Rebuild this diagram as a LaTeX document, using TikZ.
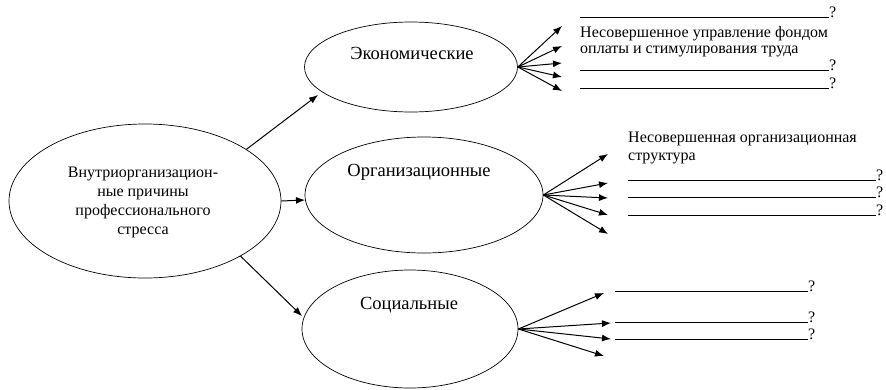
\documentclass[tikz,border=0pt]{standalone}
\usepackage{fontspec}
\setmainfont{Liberation Serif}
\usetikzlibrary{arrows.meta}
\usetikzlibrary{shapes.geometric}
\tikzset{
oval/.style={shape=ellipse, draw=black, line width=0.7pt, inner sep=0pt},
ray/.style={line width=1pt, -{Latex[length=9pt,width=7pt]}},
blank/.style={line width=0.6pt},
cause/.style={font=\fontsize{18.5}{22}\selectfont},
note/.style={font=\fontsize{16}{18}\selectfont, inner sep=0pt}}

\begin{document}
\begin{tikzpicture}[x=1pt, y=-1pt]
    \useasboundingbox (0,0) rectangle (886,389);

                % ellipses
                \node[oval, minimum width=272pt, minimum height=154pt] (main) at (145,201) {};
                \node[oval, minimum width=213pt, minimum height=90pt] (econ) at (411,67) {};
                \node[oval, minimum width=238pt, minimum height=116pt] (org) at (424,195) {};
                \node[oval, minimum width=216pt, minimum height=118pt] (soc) at (410,329) {};

                \node[align=center, font=\fontsize{16}{19}\selectfont] (main-t) at (143,202) {Внутриорганизацион-\\ные причины\\профессионального\\стресса};
                \node[cause] (econ-t) at (412,53) {Экономические};
                \node[cause] (org-t) at (419,172) {Организационные};
                \node[cause] (soc-t) at (409,305) {Социальные};

                % arrows from the main ellipse
                \coordinate (econ-in) at (318,95);
                \coordinate (org-in) at (305,200);
                \coordinate (soc-in) at (302,316);
                \draw[ray] (main.27) -- (econ-in);
                \draw[ray] (main.east) -- (org-in);
                \draw[ray] (main.-30) -- (soc-in);

                % economic fan
                \coordinate (e1) at (562,26);
                \coordinate (e2) at (562,46);
                \coordinate (e3) at (562,63);
                \coordinate (e4) at (562,77);
                \coordinate (e5) at (562,91);
                \draw[ray] (econ.east) -- (e1);
                \draw[ray] (econ.east) -- (e2);
                \draw[ray] (econ.east) -- (e3);
                \draw[ray] (econ.east) -- (e4);
                \draw[ray] (econ.east) -- (e5);

                \node[note] (eq1) at (829,17) [anchor=base west] {?};
                \node[note] (eq2) at (829,70) [anchor=base west] {?};
                \node[note] (eq3) at (829,88) [anchor=base west] {?};
                \coordinate (eb1) at (580,17);
                \coordinate (eb2) at (580,70);
                \coordinate (eb3) at (580,88);
                \draw[blank] (eb1) -- (eq1.base west);
                \draw[blank] (eb2) -- (eq2.base west);
                \draw[blank] (eb3) -- (eq3.base west);
                \node[note, anchor=base west] (en1) at (580,37) {Несовершенное управление фондом};
                \node[note, anchor=base west] (en2) at (580,53) {оплаты и стимулирования труда};

                % organisational fan
                \coordinate (o1) at (608,154);
                \coordinate (o2) at (608,183);
                \coordinate (o3) at (608,198);
                \coordinate (o4) at (608,215);
                \coordinate (o5) at (608,234);
                \draw[ray] (org.east) -- (o1);
                \draw[ray] (org.east) -- (o2);
                \draw[ray] (org.east) -- (o3);
                \draw[ray] (org.east) -- (o4);
                \draw[ray] (org.east) -- (o5);

                \node[note, anchor=base west] (on1) at (628,142) {Несовершенная организационная};
                \node[note, anchor=base west] (on2) at (628,160) {структура};
                \node[note] (oq1) at (876,180) [anchor=base west] {?};
                \node[note] (oq2) at (876,197) [anchor=base west] {?};
                \node[note] (oq3) at (876,215) [anchor=base west] {?};
                \coordinate (ob1) at (628,180);
                \coordinate (ob2) at (628,197);
                \coordinate (ob3) at (628,215);
                \draw[blank] (ob1) -- (oq1.base west);
                \draw[blank] (ob2) -- (oq2.base west);
                \draw[blank] (ob3) -- (oq3.base west);

                % social fan
                \coordinate (s1) at (604,293);
                \coordinate (s2) at (611,323);
                \coordinate (s3) at (611,339);
                \coordinate (s4) at (604,356);
                \draw[ray] (soc.east) -- (s1);
                \draw[ray] (soc.east) -- (s2);
                \draw[ray] (soc.east) -- (s3);
                \draw[ray] (soc.east) -- (s4);

                \node[note] (sq1) at (808,291) [anchor=base west] {?};
                \node[note] (sq2) at (808,322) [anchor=base west] {?};
                \node[note] (sq3) at (808,339) [anchor=base west] {?};
                \coordinate (sb1) at (615,291);
                \coordinate (sb2) at (615,322);
                \coordinate (sb3) at (615,339);
                \draw[blank] (sb1) -- (sq1.base west);
                \draw[blank] (sb2) -- (sq2.base west);
                \draw[blank] (sb3) -- (sq3.base west);

            \end{tikzpicture}
\end{document}
